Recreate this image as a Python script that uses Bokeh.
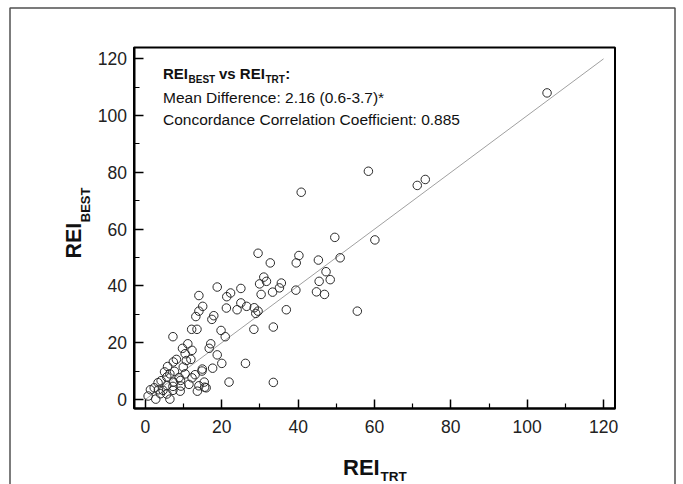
import math
from bokeh.plotting import figure
from bokeh.models import Label, FixedTicker, Range1d
from bokeh.embed import file_html
from bokeh.resources import INLINE

# ---------------- data ----------------
rei_trt = [105.2, 58.4, 71.2, 73.3, 40.8, 49.6, 60.1, 29.5, 40.2, 51.0, 32.7, 39.5, 45.3,
           31.0, 31.7, 29.9, 35.6, 35.1, 45.5, 47.3, 48.4, 39.4, 44.8, 46.9, 30.3, 33.3,
           55.5, 36.9, 18.8, 25.0, 22.3, 21.3, 14.0, 15.0, 14.0, 13.2, 25.0, 26.5, 24.0,
           21.2, 28.5, 29.5, 28.9, 17.9, 17.4, 12.1, 13.5, 28.4, 33.5, 19.8, 20.9, 7.2,
           11.1, 17.1, 16.7, 9.7, 12.2, 10.4, 18.8, 11.9, 10.7, 8.1, 7.3, 20.0, 26.2,
           17.6, 14.9, 14.8, 5.8, 7.6, 5.0, 9.9, 10.4, 6.4, 5.6, 8.8, 12.2, 13.0, 9.2,
           4.1, 7.3, 11.4, 3.3, 15.4, 21.9, 33.5, 15.5, 15.9, 14.0, 9.3, 5.6, 7.2, 2.3,
           3.4, 4.6, 7.2, 9.1, 13.6, 1.3, 3.9, 0.7, 2.7, 6.4, 5.6]
rei_best = [108.0, 80.4, 75.4, 77.5, 73.0, 57.1, 56.2, 51.5, 50.7, 49.9, 48.1, 48.1, 49.1,
            43.1, 41.6, 40.7, 41.0, 39.3, 41.6, 45.0, 42.2, 38.5, 37.9, 37.0, 37.0, 37.8,
            31.1, 31.6, 39.6, 39.1, 37.5, 36.2, 36.6, 32.8, 31.1, 29.2, 34.0, 32.8, 31.6,
            32.2, 32.3, 31.1, 30.3, 29.5, 28.2, 24.7, 24.7, 24.7, 25.5, 24.3, 22.1, 22.1,
            19.6, 19.6, 18.0, 18.0, 17.3, 16.1, 15.7, 14.1, 13.7, 14.1, 13.2, 12.7, 12.7,
            11.0, 10.7, 10.0, 11.6, 9.9, 9.7, 11.4, 9.0, 9.0, 7.9, 7.7, 7.6, 8.7, 6.7,
            6.6, 6.1, 5.3, 5.9, 6.1, 6.1, 6.0, 4.3, 4.1, 4.8, 4.7, 4.9, 4.6, 4.1,
            3.4, 3.2, 3.2, 2.9, 2.9, 3.4, 2.0, 1.2, 0.1, 0.1, 1.9]
identity_x = [0, 120]
identity_y = [0, 120]
major_ticks = [0, 20, 40, 60, 80, 100, 120]
minor_ticks = [10, 30, 50, 70, 90, 110]
line2_text = "Mean Difference: 2.16 (0.6-3.7)*"
line3_text = "Concordance Correlation Coefficient: 0.885"

# ---------------- layout ----------------
W, H = 683, 484
# plot box (data extent) and where it sits on the canvas
X0, X1 = -3.0, 123.0
Y0, Y1 = -3.2, 124.0
BOX_L, BOX_R, BOX_T, BOX_B = 133.5, 614.5, 47.0, 408.0
SX = (BOX_R - BOX_L) / (X1 - X0)
SY = (BOX_B - BOX_T) / (Y1 - Y0)
FONT = "'Liberation Sans', Arial, sans-serif"
BASE_SHIFT = 0.42   # label anchor correction (fraction of font size)


def dx(px):
    return X0 + (px - BOX_L) / SX


def dy(py):
    return Y0 + (BOX_B - py) / SY


p = figure(width=W, height=H, x_range=Range1d(dx(0), dx(W)), y_range=Range1d(dy(H), dy(0)),
           output_backend="svg", toolbar_location=None,
           min_border_left=0, min_border_right=0, min_border_top=0, min_border_bottom=0)
p.background_fill_color = "white"
p.border_fill_color = "white"
p.outline_line_color = None
p.xgrid.visible = False
p.ygrid.visible = False

p.xaxis.fixed_location = Y0
p.yaxis.fixed_location = X0
p.xaxis.bounds = (X0, X1)
p.yaxis.bounds = (Y0, Y1)
for ax in (p.xaxis[0], p.yaxis[0]):
    ax.ticker = FixedTicker(ticks=major_ticks, minor_ticks=minor_ticks)
    ax.axis_line_color = "black"
    ax.axis_line_width = 2
    ax.major_tick_in = 9
    ax.major_tick_out = 0
    ax.minor_tick_in = 5
    ax.minor_tick_out = 0
    ax.major_tick_line_color = "black"
    ax.major_tick_line_width = 1.5
    ax.minor_tick_line_color = "black"
    ax.minor_tick_line_width = 1.2
    ax.major_label_text_font = FONT
    ax.major_label_text_font_size = "17.5px"
    ax.major_label_text_color = "#222222"
p.xaxis.major_label_standoff = 11
p.yaxis.major_label_standoff = 7

# box round the plot area
p.quad(left=[X0], right=[X1], bottom=[Y0], top=[Y1], fill_alpha=0,
       line_color="black", line_width=2)

# outer panel frame (open at the bottom, runs past the canvas)
p.line([dx(9.5), dx(9.5), dx(674.5), dx(674.5)], [dy(600), dy(7.5), dy(7.5), dy(600)],
       line_color="#505050", line_width=1.5)

# identity line and points
p.line(identity_x, identity_y, line_color="#a0a0a0", line_width=1)
p.scatter(rei_trt, rei_best, marker="circle", size=8.5, fill_alpha=0,
          line_color="#2a2a2a", line_width=1)


def txt(s, px, py, size, bold=False, rotated=False, color="#111111"):
    # (px, py) is the wanted start of the text's baseline on the canvas
    if rotated:
        px -= BASE_SHIFT * size
    else:
        py -= BASE_SHIFT * size
    p.add_layout(Label(x=dx(px), y=dy(py), text=s,
                       angle=math.pi / 2 if rotated else 0.0,
                       text_font=FONT, text_font_size=f"{size}px",
                       text_font_style="bold" if bold else "normal",
                       text_color=color, text_align="left",
                       text_baseline="alphabetic"))


# annotation block
txt("REI", 162.5, 79, 15, True)
txt("BEST", 188.0, 83, 10, True)
txt("vs REI", 218.5, 79, 15, True)
txt("TRT", 265.0, 83, 10, True)
txt(":", 284.8, 79, 15, True)
txt(line2_text, 162.5, 104, 15.5)
txt(line3_text, 162.5, 125.5, 15.5)

# axis titles
txt("REI", 342.5, 476, 22, True)
txt("TRT", 380.0, 481.5, 13.5, True)
txt("REI", 83, 258, 21.5, True, rotated=True)
txt("BEST", 90, 221.7, 13, True, rotated=True)

open("out.html", "w").write(file_html(p, INLINE))
